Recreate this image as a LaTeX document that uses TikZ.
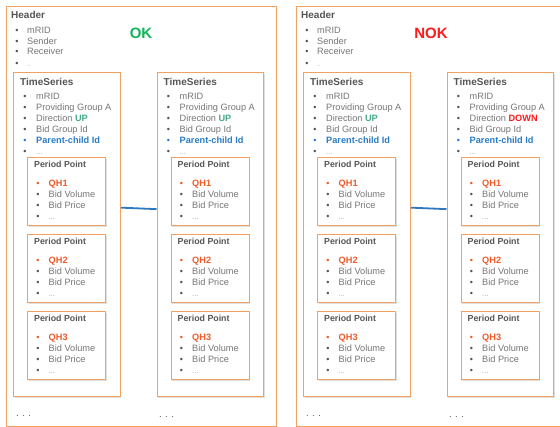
\documentclass[tikz,border=0pt]{standalone}
\usepackage{fontspec}
\setmainfont{Liberation Sans}
\usetikzlibrary{shadows}
\definecolor{boxorange}{HTML}{F3A160}
\definecolor{titlegray}{HTML}{555555}
\definecolor{itemgray}{HTML}{767676}
\definecolor{bulgray}{HTML}{555555}
\definecolor{dotgray}{HTML}{A0A0A0}
\definecolor{qhorange}{HTML}{EE5A2A}
\definecolor{pcblue}{HTML}{2A7BC6}
\definecolor{upgreen}{HTML}{45A98A}
\definecolor{okgreen}{HTML}{13B55A}
\definecolor{nokred}{HTML}{FF1A1A}
\definecolor{connblue}{HTML}{2E78C2}
\tikzset{
  txt/.style={anchor=base west, inner sep=0pt, font=\fontsize{9.2}{10}\selectfont, text=itemgray},
  ttl/.style={anchor=base west, inner sep=0pt, font=\bfseries\fontsize{10}{12}\selectfont, text=titlegray},
  ppttl/.style={anchor=base west, inner sep=0pt, font=\bfseries\fontsize{8.8}{10}\selectfont, text=titlegray},
  bul/.style={anchor=base, inner sep=0pt, font=\fontsize{9}{10}\selectfont},
  status/.style={inner sep=0pt, font=\bfseries\fontsize{15}{18}\selectfont},
  footdots/.style={inner sep=0pt, font=\fontsize{9.5}{10}\selectfont, text=titlegray},
  outerbox/.style={draw=boxorange, line width=1.3pt, anchor=north west, inner sep=0pt, fill=white},
  tsbox/.style={draw=boxorange, line width=1.3pt, fill=white, anchor=north west, inner sep=0pt,
    drop shadow={shadow xshift=0.9pt, shadow yshift=-0.9pt, opacity=0.25, fill=gray}},
  conn/.style={draw=connblue, line width=1.8pt},
}
\newcommand\lightdots{{\color{dotgray}\fontsize{7.5}{8}\selectfont ...}}
\newcommand\bitem[6]{%
  \node[bul, text=#5] (#1b) at ({#2},{#4}) {•};
  \node[txt] (#1) at ({#3},{#4}) {#6};
}
\newcommand\ppbox[4]{%
  \node[tsbox, minimum width=78pt, minimum height=68pt] (#1) at ({#2},{#3}) {};
  \node[ppttl] (#1-t) at ({#2+7},{#3+10.3}) {Period Point};
  \bitem{#1-a}{#2+11}{#2+21.5}{#3+29.5}{qhorange}{\textbf{\textcolor{qhorange}{#4}}}
  \bitem{#1-b}{#2+11}{#2+21.5}{#3+40.5}{bulgray}{Bid Volume}
  \bitem{#1-c}{#2+11}{#2+21.5}{#3+51.2}{bulgray}{Bid Price}
  \bitem{#1-d}{#2+11}{#2+21.5}{#3+62.5}{bulgray}{\lightdots}
}
\newcommand\tsblock[3]{%
  \node[tsbox, minimum width=106.5pt, minimum height=324pt] (#1) at ({#2},72) {};
  \node[ttl] (#1-t) at ({#2+7},85.3) {TimeSeries};
  \bitem{#1-i1}{#2+12}{#2+23}{100}{bulgray}{mRID}
  \bitem{#1-i2}{#2+12}{#2+23}{111}{bulgray}{Providing Group A}
  \bitem{#1-i3}{#2+12}{#2+23}{121.5}{bulgray}{Direction #3}
  \bitem{#1-i4}{#2+12}{#2+23}{132.5}{bulgray}{Bid Group Id}
  \bitem{#1-i5}{#2+12}{#2+23}{143.3}{pcblue}{\textbf{\textcolor{pcblue}{Parent-child Id}}}
  \bitem{#1-i6}{#2+12}{#2+23}{154.5}{bulgray}{\lightdots}
  \ppbox{#1-p1}{#2+14}{157}{QH1}
  \ppbox{#1-p2}{#2+14}{234}{QH2}
  \ppbox{#1-p3}{#2+14}{311}{QH3}
}
\newcommand\panel[5]{%
  \node[outerbox, minimum width=270pt, minimum height=420pt] (#1) at ({#2+6},6) {};
  \node[ttl] (#1-h) at ({#2+11},18.6) {Header};
  \bitem{#1-h1}{#2+17}{#2+27}{33.3}{bulgray}{mRID}
  \bitem{#1-h2}{#2+17}{#2+27}{44.3}{bulgray}{Sender}
  \bitem{#1-h3}{#2+17}{#2+27}{55}{bulgray}{Receiver}
  \bitem{#1-h4}{#2+17}{#2+27}{66.3}{bulgray}{{\color{dotgray}\fontsize{6}{7}\selectfont ..}}
  \node[status, text=#4] (#1-s) at ({#2+141},33) {#3};
  \tsblock{#1-ts1}{#2+13}{\textbf{\textcolor{upgreen}{UP}}}
  \tsblock{#1-ts2}{#2+156.5}{#5}
  \draw[conn] ([yshift=27pt]#1-ts1.east) -- ([yshift=25.5pt]#1-ts2.west);
  \node[footdots] (#1-f1) at ({#2+23.5},416) {. . .};
  \node[footdots] (#1-f2) at ({#2+166.5},417) {. . .};
}
\begin{document}
\begin{tikzpicture}[x=1pt,y=-1pt]
  \clip (0,0) rectangle (560,427);
  \panel{L}{0}{OK}{okgreen}{\textbf{\textcolor{upgreen}{UP}}}
  \panel{R}{290}{NOK}{nokred}{\textbf{\textcolor{nokred}{DOWN}}}
\end{tikzpicture}
\end{document}
